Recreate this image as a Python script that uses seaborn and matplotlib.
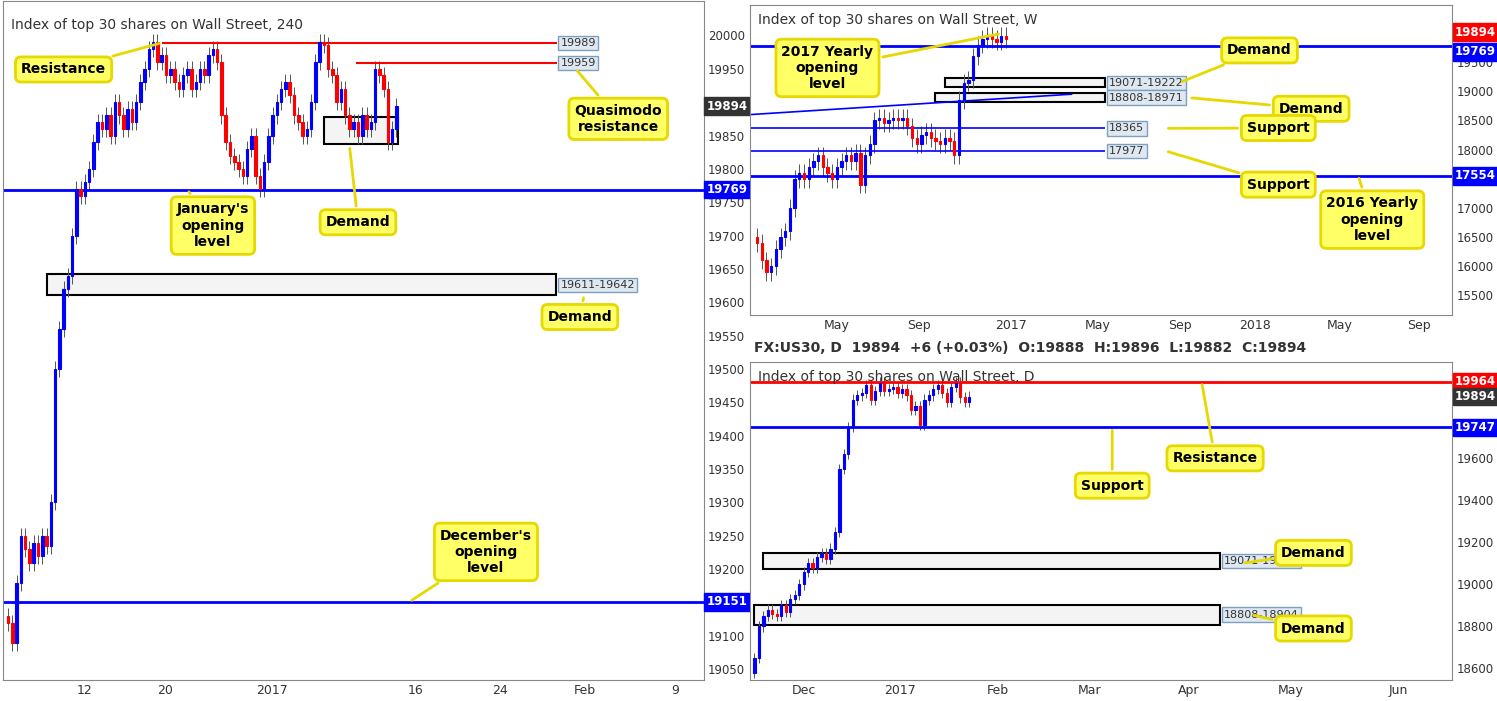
import numpy as np
import pandas as pd
import matplotlib.pyplot as plt
import seaborn as sns
from matplotlib.patches import Rectangle

sns.set_style("white")
plt.rcParams['font.family'] = ['DejaVu Sans']

# ---- data: 4h panel (left) ----
h4_close = [19120, 19090, 19180, 19250, 19230, 19210, 19240, 19220, 19250, 19235,
            19300, 19500, 19560, 19620, 19640, 19700, 19770, 19760, 19780, 19800,
            19840, 19870, 19860, 19880, 19850, 19900, 19880, 19860, 19890, 19870,
            19900, 19930, 19950, 19980, 19990, 19960, 19970, 19940, 19950, 19930,
            19920, 19940, 19950, 19920, 19930, 19950, 19940, 19970, 19980, 19960,
            19880, 19840, 19820, 19810, 19800, 19790, 19830, 19850, 19790, 19770,
            19810, 19850, 19880, 19900, 19920, 19930, 19910, 19880, 19870, 19850,
            19860, 19900, 19960, 19990, 19985, 19950, 19940, 19900, 19920, 19880,
            19860, 19870, 19850, 19880, 19860, 19870, 19950, 19940, 19920, 19840,
            19860, 19894]
h4_yticks = [v for v in range(19050, 20001, 50) if v not in (19900, 19150)]
h4_ticks = [18, 36.8, 61.8, 95.6, 115.4, 135.2, 156.4]
h4_ticklabels = ["12", "20", "2017", "16", "24", "Feb", "9"]

# ---- weekly panel (top right) ----
wk_close = [16400, 16100, 15900, 16000, 16300, 16500, 16600, 17000, 17500, 17600,
            17500, 17700, 17800, 17900, 17700, 17600, 17500, 17700, 17800, 17900,
            17800, 17950, 17400, 17900, 18100, 18500, 18550, 18450, 18500, 18550,
            18500, 18550, 18400, 18200, 18100, 18250, 18300, 18200, 18150, 18100,
            18200, 18150, 17900, 18850, 19150, 19200, 19600, 19800, 19900, 19950,
            19900, 19850, 19950, 19894]
wk_yticks = [v for v in range(15500, 20001, 500) if v not in (17500, 20000)]
wk_ticks = [17, 34.5, 54, 72.5, 90, 106, 124, 141]
wk_ticklabels = ["May", "Sep", "2017", "May", "Sep", "2018", "May", "Sep"]

# ---- daily panel (bottom right) ----
d_close = [18650, 18800, 18850, 18880, 18860, 18850, 18900, 18870, 18930, 18950,
           19000, 19060, 19100, 19080, 19130, 19150, 19120, 19170, 19250, 19550,
           19620, 19750, 19880, 19900, 19910, 19950, 19880, 19920, 19960, 19920,
           19930, 19940, 19910, 19930, 19900, 19830, 19850, 19760, 19880, 19900,
           19930, 19950, 19910, 19870, 19940, 19960, 19890, 19870, 19894]
d_yticks = list(range(18600, 19601, 200))
d_ticks = [11, 32.5, 54.5, 75, 97, 120, 144]
d_ticklabels = ["Dec", "2017", "Feb", "Mar", "Apr", "May", "Jun"]

BLUE = "#0000ff"
RED = "#ff0000"
YEL = "#ffff66"


def candles(ax, closes, start_open, wick, width=0.6):
    opens = [start_open] + closes[:-1]
    df = pd.DataFrame({"x": range(len(closes)), "o": opens, "c": closes})
    df["up"] = df.c >= df.o
    for _, r in df.iterrows():
        col = BLUE if r.up else RED
        lo, hi = min(r.o, r.c), max(r.o, r.c)
        ax.vlines(r.x, lo - wick, hi + wick, color="#555555", lw=0.7, zorder=2)
        ax.bar(r.x, max(hi - lo, wick * 0.15), bottom=lo, width=width,
               color=col, edgecolor=col, lw=0.8, zorder=3)


def setup(ax, ylim, xlim, yticks, ticks, labels, title):
    ax.set_ylim(*ylim)
    ax.set_xlim(*xlim)
    ax.yaxis.tick_right()
    ax.set_yticks(yticks)
    ax.set_yticklabels([str(v) for v in yticks], fontsize=8.5, color="#333333")
    ax.set_xticks(ticks)
    ax.set_xticklabels(labels, fontsize=9, color="#333333")
    ax.tick_params(length=0, pad=3)
    for s in ax.spines.values():
        s.set_color("#888888")
    ax.text(0.012, 0.975, title, transform=ax.transAxes, fontsize=10,
            va="top", color="#333333")


def price_tag(ax, y, txt, fc, tc="white", dy=0):
    ax.annotate(txt, xy=(1.0, y), xycoords=("axes fraction", "data"),
                xytext=(2, dy), textcoords="offset points", va="center",
                fontsize=8.5, fontweight="bold", color=tc,
                bbox=dict(boxstyle="square,pad=0.2", fc=fc, ec=fc),
                annotation_clip=False, zorder=10)


def zone_tag(ax, x, y, txt):
    ax.text(x, y, txt, fontsize=8, va="center", color="#333333",
            bbox=dict(boxstyle="square,pad=0.2", fc="#dfe8f0", ec="#7f9fbf"))


def callout(ax, x, y, txt, tx, ty):
    ax.annotate(txt, xy=(tx, ty), xytext=(x, y), fontsize=10, fontweight="bold",
                ha="center", va="center", color="black",
                bbox=dict(boxstyle="round,pad=0.4", fc=YEL, ec="#e6d800", lw=2),
                arrowprops=dict(arrowstyle="-", color="#e6d800", lw=2))


def zone(ax, x0, x1, y0, y1):
    ax.add_patch(Rectangle((x0, y0), x1 - x0, y1 - y0, fc="#f4f4f4", ec="black",
                           lw=1.5, zorder=1))


fig = plt.figure(figsize=(14.97, 7.01), dpi=100)

# ---- left 4h ----
ax1 = fig.add_axes([0.002, 0.03, 0.468, 0.968])
setup(ax1, (19034, 20051), (-1.2, 163), h4_yticks,
      h4_ticks, h4_ticklabels, "Index of top 30 shares on Wall Street, 240")
zone(ax1, 9, 128.5, 19611, 19642)
zone(ax1, 74, 91.4, 19838, 19878)
candles(ax1, h4_close, 19130, 12)
ax1.axhline(19769, color=BLUE, lw=2)
ax1.axhline(19151, color=BLUE, lw=2)
ax1.hlines(19989, 36, 128.6, color=RED, lw=1.5)
ax1.hlines(19959, 81.5, 128.6, color=RED, lw=1.5)
zone_tag(ax1, 129.5, 19989, "19989")
zone_tag(ax1, 129.5, 19959, "19959")
zone_tag(ax1, 129.5, 19626, "19611-19642")
price_tag(ax1, 19894, "19894", "#333333")
price_tag(ax1, 19769, "19769", BLUE)
price_tag(ax1, 19151, "19151", BLUE)
callout(ax1, 13, 19949, "Resistance", 36, 19989)
callout(ax1, 143, 19875, "Quasimodo\nresistance", 133, 19950)
callout(ax1, 48, 19715, "January's\nopening\nlevel", 42, 19769)
callout(ax1, 82, 19720, "Demand", 80, 19835)
callout(ax1, 134, 19578, "Demand", 135, 19611)
callout(ax1, 112, 19226, "December's\nopening\nlevel", 94, 19151)

# ---- top right weekly ----
ax2 = fig.add_axes([0.501, 0.551, 0.469, 0.442])
setup(ax2, (15170, 20480), (-1.5, 148), wk_yticks,
      wk_ticks, wk_ticklabels, "Index of top 30 shares on Wall Street, W")
zone(ax2, 40, 74, 19071, 19222)
zone(ax2, 38, 74, 18808, 18971)
ax2.plot([-1.5, 67], [18600, 18950], color=BLUE, lw=1.2)
candles(ax2, wk_close, 16500, 150, width=0.5)
ax2.axhline(19769, color=BLUE, lw=2)
ax2.axhline(17554, color=BLUE, lw=2)
ax2.hlines(18365, -1.5, 74, color=BLUE, lw=1.2)
ax2.hlines(17977, -1.5, 74, color=BLUE, lw=1.2)
zone_tag(ax2, 75, 19146, "19071-19222")
zone_tag(ax2, 75, 18890, "18808-18971")
zone_tag(ax2, 75, 18365, "18365")
zone_tag(ax2, 75, 17977, "17977")
price_tag(ax2, 19894, "19894", RED, dy=5)
price_tag(ax2, 19769, "19769", BLUE, dy=-4)
price_tag(ax2, 17554, "17554", BLUE)
callout(ax2, 15, 19400, "2017 Yearly\nopening\nlevel", 52, 19990)
callout(ax2, 107, 19700, "Demand", 90, 19150)
callout(ax2, 118, 18700, "Demand", 92, 18890)
callout(ax2, 111, 18370, "Support", 87, 18365)
callout(ax2, 111, 17400, "Support", 87, 17977)
callout(ax2, 131, 16800, "2016 Yearly\nopening\nlevel", 128, 17554)

fig.text(0.504, 0.503, "FX:US30, D  19894  +6 (+0.03%)  O:19888  H:19896  L:19882  C:19894",
         fontsize=10, fontweight="bold", color="#333333", va="center")

# ---- bottom right daily ----
ax3 = fig.add_axes([0.501, 0.03, 0.469, 0.454])
setup(ax3, (18545, 20060), (-1, 156), d_yticks,
      d_ticks, d_ticklabels, "Index of top 30 shares on Wall Street, D")
zone(ax3, 2, 104, 19071, 19151)
zone(ax3, 0, 104, 18808, 18904)
candles(ax3, d_close, 18580, 25, width=0.5)
ax3.axhline(19964, color=RED, lw=2)
ax3.axhline(19747, color=BLUE, lw=2)
zone_tag(ax3, 105, 19111, "19071-19151")
zone_tag(ax3, 105, 18856, "18808-18904")
price_tag(ax3, 19964, "19964", RED)
price_tag(ax3, 19894, "19894", "#333333")
price_tag(ax3, 19747, "19747", BLUE)
callout(ax3, 80, 19470, "Support", 80, 19747)
callout(ax3, 103, 19600, "Resistance", 100, 19964)
callout(ax3, 125, 19150, "Demand", 109, 19100)
callout(ax3, 125, 18790, "Demand", 111, 18856)

fig.savefig("out.png", dpi=100)
